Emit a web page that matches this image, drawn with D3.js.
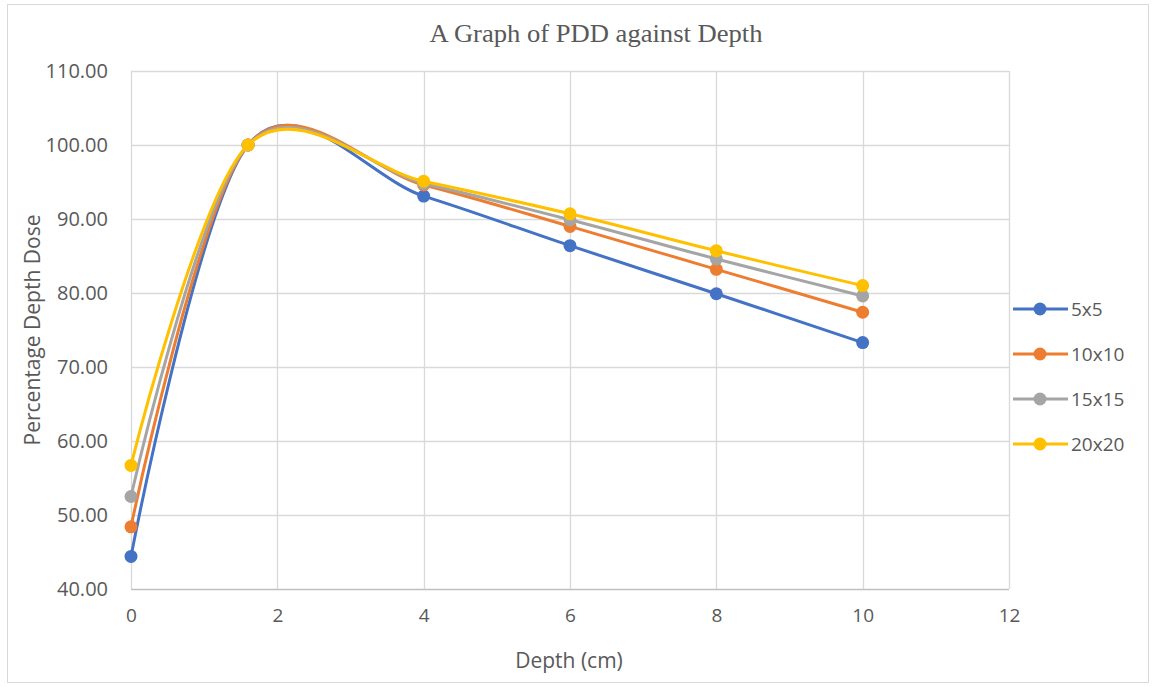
<!DOCTYPE html>
<html>
<head>
<meta charset="utf-8">
<script src="https://cdn.jsdelivr.net/npm/d3@7"></script>
<style>
  body { margin: 0; background: #fff; }
  svg { display: block; }
</style>
</head>
<body>
<svg id="chart"></svg>
<script>
// depths (cm) and PDD values
const depths = [0, 1.6, 4, 6, 8, 10];
const pdd5 = [44.4, 100, 93.1, 86.4, 79.9, 73.3];
const pdd10 = [48.4, 100, 94.6, 89.0, 83.2, 77.4];
const pdd15 = [52.5, 100, 94.8, 89.9, 84.6, 79.6];
const pdd20 = [56.7, 100, 95.1, 90.7, 85.7, 81.0];
const seriesNames = ['5x5', '10x10', '15x15', '20x20'];
const xTicks = [0, 2, 4, 6, 8, 10, 12];
const yTicks = [40, 50, 60, 70, 80, 90, 100, 110];

const colors = ['#4472c4', '#ed7d31', '#a5a5a5', '#ffc000'];
const allSeries = [pdd5, pdd10, pdd15, pdd20].map((vals, i) => ({
  name: seriesNames[i],
  color: colors[i],
  points: depths.map((d, j) => ({x: d, y: vals[j]}))
}));

const W = 1154, H = 687;
const PLOT = {left: 131, right: 1009, top: 71, bottom: 589};
const FONT = '"Open Sans", Lato, sans-serif';

const svg = d3.select('#chart').attr('width', W).attr('height', H);

// outer chart frame
svg.append('rect')
  .attr('x', 7.5).attr('y', 4.5)
  .attr('width', 1141).attr('height', 678)
  .attr('fill', '#fff')
  .attr('stroke', '#d9d9d9');

const x = d3.scaleLinear().domain([0, 12]).range([PLOT.left, PLOT.right]);
const y = d3.scaleLinear().domain([40, 110]).range([PLOT.bottom, PLOT.top]);

/* gridlines */
const grid = svg.append('g');
grid.selectAll('.hg').data(yTicks).enter().append('line')
  .attr('x1', PLOT.left).attr('x2', PLOT.right)
  .attr('y1', d => Math.round(y(d)) + 0.5).attr('y2', d => Math.round(y(d)) + 0.5)
  .attr('stroke', d => d === 40 ? '#bfbfbf' : '#d9d9d9')
  .attr('stroke-width', 1.3);
grid.selectAll('.vg').data(xTicks).enter().append('line')
  .attr('y1', PLOT.top).attr('y2', PLOT.bottom)
  .attr('x1', d => Math.round(x(d)) + 0.5).attr('x2', d => Math.round(x(d)) + 0.5)
  .attr('stroke', '#d9d9d9')
  .attr('stroke-width', 1.3);

/* axes (labels only, Excel style) */
const yAxis = svg.append('g')
  .attr('transform', `translate(${PLOT.left - 23},0)`)
  .call(d3.axisLeft(y).tickValues(yTicks).tickFormat(d3.format('.2f')).tickSize(0).tickPadding(0));
yAxis.select('.domain').remove();
yAxis.selectAll('text')
  .attr('font-family', FONT)
  .attr('font-size', 20).attr('fill', '#595959');

const xAxis = svg.append('g')
  .attr('transform', `translate(0,${PLOT.bottom + 19})`)
  .call(d3.axisBottom(x).tickValues(xTicks).tickSize(0).tickPadding(0));
xAxis.select('.domain').remove();
xAxis.selectAll('text')
  .attr('font-family', FONT)
  .attr('font-size', 19).attr('fill', '#595959');

/* titles */
svg.append('text')
  .attr('x', 596).attr('y', 42)
  .attr('text-anchor', 'middle')
  .attr('font-family', '"Liberation Serif", "DejaVu Serif", serif')
  .attr('font-size', 25).attr('fill', '#595959')
  .attr('textLength', 333)
  .attr('lengthAdjust', 'spacingAndGlyphs')
  .text('A Graph of PDD against Depth');

svg.append('text')
  .attr('x', 569).attr('y', 668)
  .attr('text-anchor', 'middle')
  .attr('font-family', FONT)
  .attr('font-size', 21).attr('fill', '#595959')
  .text('Depth (cm)');

svg.append('text')
  .attr('transform', 'translate(40,330) rotate(-90)')
  .attr('text-anchor', 'middle')
  .attr('font-family', FONT)
  .attr('font-size', 21).attr('fill', '#595959')
  .text('Percentage Depth Dose');

/* series */
const line = d3.line()
  .x(d => x(d.x)).y(d => y(d.y))
  .curve(d3.curveCardinal.tension(0));

const chart = svg.append('g');
const groups = chart.selectAll('.series').data(allSeries).enter().append('g').classed('series', true);
groups.append('path')
  .attr('d', d => line(d.points))
  .attr('fill', 'none')
  .attr('stroke', d => d.color)
  .attr('stroke-width', 3)
  .attr('stroke-linecap', 'round');
groups.selectAll('circle').data(d => d.points.map(p => ({...p, color: d.color}))).enter()
  .append('circle')
  .attr('cx', d => x(d.x)).attr('cy', d => y(d.y))
  .attr('r', 6.5)
  .attr('fill', d => d.color);

/* legend */
const legendY = d3.scalePoint().domain(seriesNames).range([309, 444]);
const legend = svg.append('g');
const items = legend.selectAll('.leg').data(allSeries).enter().append('g')
  .attr('transform', d => `translate(0,${legendY(d.name)})`);
items.append('line')
  .attr('x1', 1013).attr('x2', 1068)
  .attr('stroke', d => d.color).attr('stroke-width', 3);
items.append('circle')
  .attr('cx', 1040).attr('r', 6.5).attr('fill', d => d.color);
items.append('text')
  .attr('x', 1071).attr('y', 7)
  .attr('font-family', FONT)
  .attr('font-size', 19).attr('fill', '#595959')
  .text(d => d.name);
</script>
</body>
</html>
